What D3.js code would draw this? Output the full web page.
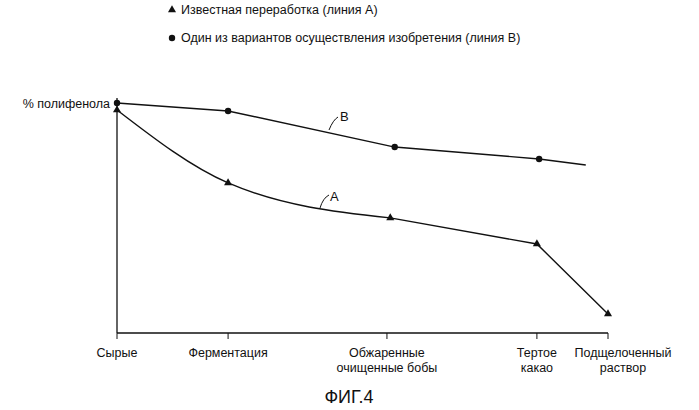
<!DOCTYPE html><html><head><meta charset="utf-8">
<script src="https://cdn.jsdelivr.net/npm/d3@7"></script>
<style>body{margin:0;background:#fff}text{font-family:"Liberation Sans",Arial,sans-serif;fill:#111}</style></head>
<body><svg id="c" width="699" height="410"></svg>
<script>
const stages=["Сырые","Ферментация","Обжаренные\nочищенные бобы","Тертое\nкакао","Подщелоченный\nраствор"];
const stagePos=[0,1,2.43,3.78,4.42];
const labelShift=[0,0,0,0,1.5];
const lineBx=[0,1,2.5,3.8,4.22];
const lineB=[98.7,95.3,79.8,74.7,72.1];
const lineBMarkers=[true,true,true,true,false];
const lineAx=[0,1,2.46,3.78,4.42];
const lineA=[95.7,64.4,49.4,38.2,8.2];
const legend=["Известная переработка (линия А)","Один из вариантов осуществления изобретения (линия В)"];
const svg=d3.select("#c");
const x=d3.scaleLinear().domain([0,4.42]).range([117,608]);
const y=d3.scaleLinear().domain([0,100]).range([333,100]);
svg.append("line").attr("x1",117).attr("x2",117).attr("y1",98).attr("y2",333).attr("stroke","#111").attr("stroke-width",1.3);
svg.append("line").attr("x1",117).attr("x2",608).attr("y1",333).attr("y2",333).attr("stroke","#111").attr("stroke-width",1.3);
stages.forEach((s,i)=>{
  const xx=x(stagePos[i]);
  svg.append("line").attr("x1",xx).attr("x2",xx).attr("y1",333).attr("y2",339).attr("stroke","#111");
  const lx=xx+labelShift[i]*10;
  const t=svg.append("text").attr("x",lx).attr("y",357).attr("text-anchor","middle").attr("font-size",12.5);
  s.split("\n").forEach((l,j)=>t.append("tspan").attr("x",lx).attr("dy",j?15:0).text(l));
});
svg.append("text").attr("x",110).attr("y",108).attr("text-anchor","end").attr("font-size",12.5).text("% полифенола");
const lin=d3.line().x(d=>x(d[0])).y(d=>y(d[1]));
const bp=lineBx.map((v,i)=>[v,lineB[i]]);
const ap=lineAx.map((v,i)=>[v,lineA[i]]);
svg.append("path").attr("d",lin(bp)).attr("fill","none").attr("stroke","#111").attr("stroke-width",1.4);
svg.append("path").attr("d",d3.line().x(d=>x(d[0])).y(d=>y(d[1])).curve(d3.curveMonotoneX)(ap.slice(0,3))).attr("fill","none").attr("stroke","#111").attr("stroke-width",1.4);
svg.append("path").attr("d",lin(ap.slice(2))).attr("fill","none").attr("stroke","#111").attr("stroke-width",1.4);
bp.forEach((p,i)=>{if(lineBMarkers[i])svg.append("circle").attr("cx",x(p[0])).attr("cy",y(p[1])).attr("r",3.2).attr("fill","#111");});
const tri=d3.symbol().type(d3.symbolTriangle).size(28);
ap.forEach(p=>svg.append("path").attr("d",tri()).attr("transform",`translate(${x(p[0])},${y(p[1])})`).attr("fill","#111"));
svg.append("path").attr("d","M329,130 Q333,120 338,117").attr("fill","none").attr("stroke","#111");
svg.append("text").attr("x",340).attr("y",121).attr("font-size",13).text("B");
svg.append("path").attr("d","M320,208 Q323,198 329,195").attr("fill","none").attr("stroke","#111");
svg.append("text").attr("x",330).attr("y",201).attr("font-size",13).text("A");
svg.append("path").attr("d",tri()).attr("transform","translate(172,10)").attr("fill","#111");
svg.append("text").attr("x",181).attr("y",14).attr("font-size",12.5).text(legend[0]);
svg.append("circle").attr("cx",172).attr("cy",38).attr("r",3.2).attr("fill","#111");
svg.append("text").attr("x",181).attr("y",42).attr("font-size",12.5).text(legend[1]);
svg.append("text").attr("x",349).attr("y",403).attr("text-anchor","middle").attr("font-size",18).text("ФИГ.4");
</script></body></html>
